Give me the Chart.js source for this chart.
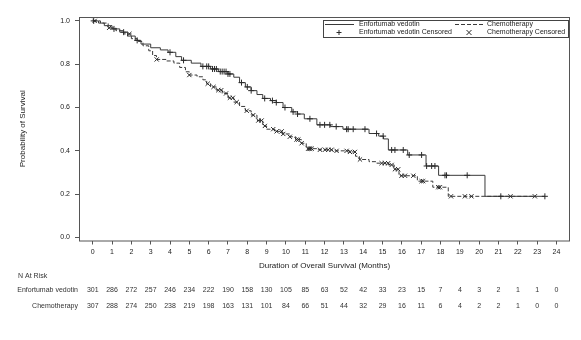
<!DOCTYPE html>
<html>
<head>
<meta charset="utf-8">
<script src="https://cdn.jsdelivr.net/npm/chart.js@4/dist/chart.umd.min.js"></script>
<style>
  html, body { margin: 0; padding: 0; background: #fff; }
  #wrap { width: 581px; height: 340px; }
</style>
</head>
<body>
<div id="wrap"><canvas id="km" width="581" height="340"></canvas></div>
<script>
// ---------- Data ----------
const evTimes = [0, 0.3, 0.6, 1.0, 1.4, 1.8, 2.2, 2.5, 3.0, 3.5, 3.9, 4.3, 4.6, 5.1, 5.6, 6.1, 6.5, 7.0, 7.3, 7.6, 7.9, 8.2, 8.5, 8.8, 9.2, 9.5, 9.85, 10.3, 10.6, 10.95, 11.6, 12.3, 12.95, 14.3, 14.8, 15.05, 15.3, 16.3, 17.25, 17.9, 20.3];
const evSurv  = [1.0, 0.99, 0.978, 0.963, 0.948, 0.93, 0.91, 0.893, 0.876, 0.866, 0.855, 0.835, 0.818, 0.805, 0.79, 0.778, 0.766, 0.755, 0.74, 0.715, 0.695, 0.678, 0.66, 0.642, 0.632, 0.623, 0.60, 0.58, 0.57, 0.548, 0.52, 0.512, 0.50, 0.48, 0.468, 0.455, 0.404, 0.381, 0.33, 0.287, 0.19];
const evEnd = 23.4;

const chemoTimes = [0, 0.4, 0.8, 1.2, 1.6, 2.0, 2.3, 2.6, 2.9, 3.1, 3.3, 3.8, 4.2, 4.5, 4.8, 5.0, 5.4, 5.7, 5.9, 6.1, 6.4, 6.7, 7.0, 7.3, 7.6, 7.9, 8.2, 8.5, 8.8, 9.0, 9.4, 9.8, 10.2, 10.5, 10.8, 11.05, 11.6, 12.4, 13.3, 13.6, 13.8, 14.3, 14.7, 15.3, 15.6, 15.85, 16.8, 17.6, 18.4];
const chemoSurv  = [1.0, 0.99, 0.968, 0.955, 0.94, 0.918, 0.905, 0.885, 0.862, 0.84, 0.822, 0.815, 0.805, 0.785, 0.765, 0.75, 0.742, 0.728, 0.71, 0.695, 0.68, 0.665, 0.645, 0.625, 0.605, 0.585, 0.565, 0.54, 0.515, 0.50, 0.49, 0.478, 0.465, 0.452, 0.435, 0.41, 0.405, 0.40, 0.395, 0.375, 0.36, 0.35, 0.343, 0.335, 0.315, 0.285, 0.26, 0.232, 0.19];
const chemoEnd = 22.9;

const evCensor = [0.05, 1.1, 1.6, 2.3, 4.0, 4.7, 5.7, 5.9, 6.0, 6.2, 6.3, 6.4, 6.6, 6.7, 6.8, 6.9, 7.0, 7.1, 7.7, 8.0, 8.2, 8.9, 9.3, 9.5, 9.95, 10.37, 10.6, 11.24, 11.76, 12.0, 12.27, 12.6, 13.14, 13.22, 13.48, 14.09, 14.69, 15.03, 15.47, 15.64, 16.07, 16.38, 17.02, 17.28, 17.54, 17.71, 18.23, 18.31, 19.38, 21.12, 23.4];
const chemoCensor = [0.1, 0.85, 1.9, 3.31, 5.0, 5.95, 6.25, 6.5, 6.65, 6.9, 7.1, 7.25, 7.45, 7.97, 8.31, 8.57, 8.74, 8.91, 9.34, 9.52, 9.78, 9.86, 10.2, 10.55, 10.64, 10.81, 11.15, 11.2, 11.25, 11.33, 11.76, 12.02, 12.19, 12.36, 12.62, 13.14, 13.31, 13.57, 13.83, 14.95, 15.12, 15.29, 15.47, 15.64, 15.81, 15.98, 16.16, 16.59, 17.02, 17.1, 17.88, 17.97, 18.54, 19.26, 19.6, 21.62, 22.88];

const riskMonths  = [0, 1, 2, 3, 4, 5, 6, 7, 8, 9, 10, 11, 12, 13, 14, 15, 16, 17, 18, 19, 20, 21, 22, 23, 24];
const evAtRisk    = [301, 286, 272, 257, 246, 234, 222, 190, 158, 130, 105, 85, 63, 52, 42, 33, 23, 15, 7, 4, 3, 2, 1, 1, 0];
const chemoAtRisk = [307, 288, 274, 250, 238, 219, 198, 163, 131, 101, 84, 66, 51, 44, 32, 29, 16, 11, 6, 4, 2, 2, 1, 0, 0];

const xTicks = riskMonths;
const yTicks = [0, 0.2, 0.4, 0.6, 0.8, 1.0];

// ---------- Helpers ----------
function stepPoints(times, surv, end) {
    const pts = times.map((t, i) => ({ x: t, y: surv[i] }));
    pts.push({ x: end, y: surv[surv.length - 1] });
    return pts;
}

function survAt(times, surv, t) {
    let s = surv[0];
    for (let i = 0; i < times.length; i++) {
        if (times[i] <= t) s = surv[i];
    }
    return s;
}

const LINE = "#3a3a3a";
const MARK = "#2a2a2a";
const FONT = "'Liberation Sans', Arial, sans-serif";

// ---------- Plugins ----------
const framePlugin = {
    id: "frame",
    afterDraw(chart) {
        const { ctx, chartArea: a } = chart;
        ctx.save();
        ctx.strokeStyle = "#555";
        ctx.lineWidth = 1;
        ctx.strokeRect(a.left + 0.5, a.top + 0.5, a.right - a.left - 1, a.bottom - a.top);
        ctx.restore();
    }
};

// legend box in top-right corner, two items per row
const legendPlugin = {
    id: "kmLegend",
    afterDraw(chart) {
        const { ctx } = chart;
        const box = { x: 323, y: 20, w: 245, h: 17 };
        ctx.save();
        ctx.fillStyle = "#fff";
        ctx.fillRect(box.x, box.y, box.w, box.h);
        ctx.strokeStyle = "#444";
        ctx.lineWidth = 1;
        ctx.strokeRect(box.x + 0.5, box.y + 0.5, box.w, box.h);

        ctx.font = "7px " + FONT;
        ctx.fillStyle = "#222";
        ctx.textBaseline = "middle";
        const cols = [325, 455];
        const textX = [359, 487];
        const rows = [24.5, 32.5];
        chart.data.datasets.forEach((ds, i) => {
            const col = i % 2, row = Math.floor(i / 2);
            const y = rows[row];
            if (ds.showLine) {
                ctx.strokeStyle = LINE;
                ctx.setLineDash(ds.borderDash || []);
                ctx.beginPath();
                ctx.moveTo(cols[col], y);
                ctx.lineTo(cols[col] + 29, y);
                ctx.stroke();
                ctx.setLineDash([]);
            } else {
                const cx = cols[col] + 14, r = 2.5;
                ctx.strokeStyle = MARK;
                ctx.beginPath();
                if (ds.pointStyle === "cross") {
                    ctx.moveTo(cx - r, y); ctx.lineTo(cx + r, y);
                    ctx.moveTo(cx, y - r); ctx.lineTo(cx, y + r);
                } else {
                    ctx.moveTo(cx - r, y - r); ctx.lineTo(cx + r, y + r);
                    ctx.moveTo(cx - r, y + r); ctx.lineTo(cx + r, y - r);
                }
                ctx.stroke();
            }
            ctx.fillText(ds.label, textX[col], y);
        });
        ctx.restore();
    }
};

// number at risk table under the x axis
const riskPlugin = {
    id: "atRisk",
    afterDraw(chart) {
        const { ctx } = chart;
        const xs = chart.scales.x;
        ctx.save();
        ctx.font = "7px " + FONT;
        ctx.fillStyle = "#333";
        ctx.textBaseline = "middle";
        ctx.textAlign = "left";
        ctx.fillText("N At Risk", 18, 276);
        ctx.textAlign = "right";
        ctx.fillText("Enfortumab vedotin", 78, 290);
        ctx.fillText("Chemotherapy", 78, 306);
        ctx.textAlign = "center";
        riskMonths.forEach((m, i) => {
            const px = xs.getPixelForValue(m);
            ctx.fillText(String(evAtRisk[i]), px, 290);
            ctx.fillText(String(chemoAtRisk[i]), px, 306);
        });
        ctx.restore();
    }
};

// ---------- Chart ----------
new Chart(document.getElementById("km"), {
    type: "scatter",
    data: {
        datasets: [
            {
                label: "Enfortumab vedotin",
                data: stepPoints(evTimes, evSurv, evEnd),
                showLine: true,
                stepped: "before",
                borderColor: LINE,
                borderWidth: 1,
                pointRadius: 0,
                order: 2
            },
            {
                label: "Chemotherapy",
                data: stepPoints(chemoTimes, chemoSurv, chemoEnd),
                showLine: true,
                stepped: "before",
                borderColor: LINE,
                borderWidth: 1,
                borderDash: [4, 2],
                pointRadius: 0,
                order: 2
            },
            {
                label: "Enfortumab vedotin Censored",
                data: evCensor.map(t => ({ x: t, y: survAt(evTimes, evSurv, t) })),
                showLine: false,
                pointStyle: "cross",
                pointRadius: 3,
                borderColor: MARK,
                borderWidth: 1,
                order: 1
            },
            {
                label: "Chemotherapy Censored",
                data: chemoCensor.map(t => ({ x: t, y: survAt(chemoTimes, chemoSurv, t) })),
                showLine: false,
                pointStyle: "crossRot",
                pointRadius: 3,
                borderColor: MARK,
                borderWidth: 1,
                order: 1
            }
        ]
    },
    options: {
        responsive: false,
        animation: false,
        devicePixelRatio: 1,
        layout: { padding: { top: 17, right: 11, left: 0, bottom: 0 } },
        plugins: {
            legend: { display: false },
            tooltip: { enabled: false }
        },
        scales: {
            x: {
                type: "linear",
                min: -0.71,
                max: 24.7,
                afterBuildTicks: s => { s.ticks = xTicks.map(v => ({ value: v })); },
                afterFit: s => { s.height = 99.5; },
                grid: { drawOnChartArea: false, drawTicks: true, tickLength: 4, color: "#555" },
                border: { display: false },
                ticks: { font: { size: 7, family: FONT }, color: "#222", padding: 3, maxRotation: 0, autoSkip: false },
                title: {
                    display: true,
                    text: "Duration of Overall Survival (Months)",
                    font: { size: 8, family: FONT },
                    color: "#222",
                    padding: { top: 0, bottom: 69 }
                }
            },
            y: {
                type: "linear",
                min: -0.014,
                max: 1.018,
                afterBuildTicks: s => { s.ticks = yTicks.map(v => ({ value: v })); },
                afterFit: s => { s.width = 79; },
                grid: { drawOnChartArea: false, drawTicks: true, tickLength: 4, color: "#555" },
                border: { display: false },
                ticks: { font: { size: 7, family: FONT }, color: "#222", padding: 5, callback: v => v.toFixed(1) },
                title: {
                    display: true,
                    text: "Probability of Survival",
                    font: { size: 8, family: FONT },
                    color: "#222",
                    padding: { top: 18, bottom: 0 }
                }
            }
        }
    },
    plugins: [framePlugin, legendPlugin, riskPlugin]
});
</script>
</body>
</html>
